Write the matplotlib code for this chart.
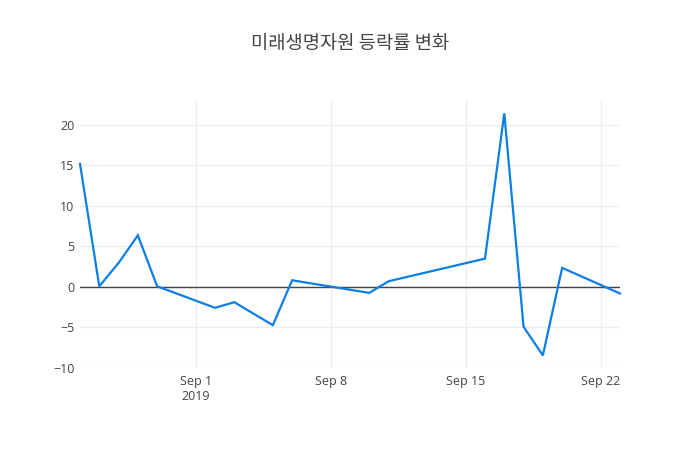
import matplotlib
matplotlib.use("Agg")
import matplotlib.pyplot as plt
import matplotlib.dates as mdates
import pandas as pd

plt.rcParams['font.family'] = ['Open Sans', 'Noto Sans CJK KR', 'DejaVu Sans']

title = "미래생명자원 등락률 변화"
dates = ["2019-08-26", "2019-08-27", "2019-08-28", "2019-08-29", "2019-08-30",
         "2019-09-02", "2019-09-03", "2019-09-05", "2019-09-06", "2019-09-10",
         "2019-09-11", "2019-09-16", "2019-09-17", "2019-09-18", "2019-09-19",
         "2019-09-20", "2019-09-23"]
values = [15.16, 0.07, 2.95, 6.35, 0.07,
          -2.58, -1.89, -4.72, 0.81, -0.74,
          0.69, 3.48, 21.39, -4.92, -8.45,
          2.34, -0.82]
tick_dates = ["2019-09-01", "2019-09-08", "2019-09-15", "2019-09-22"]
tick_labels = ["Sep 1\n2019", "Sep 8", "Sep 15", "Sep 22"]
y_ticks = [-10, -5, 0, 5, 10, 15, 20]

x = pd.to_datetime(dates)

fig = plt.figure(figsize=(7, 4.5), dpi=100)
ax = fig.add_axes([80/700, (450-368)/450, 540/700, 268/450])

ax.plot(x, values, color='#0c7ee6', linewidth=1.6, solid_joinstyle='miter', zorder=3, clip_on=False)
ax.axhline(0, color='#444444', linewidth=1, zorder=2)

ax.set_xlim(x[0], x[-1])
ax.set_ylim(-10, 23.03)

ax.set_xticks(pd.to_datetime(tick_dates))
ax.set_xticklabels(tick_labels)
ax.set_yticks(y_ticks)
ax.set_yticklabels([str(v).replace('-', '\u2212') for v in y_ticks])

ax.grid(True, color='#eeeeee', linewidth=1, zorder=0)
ax.set_axisbelow(True)
for s in ax.spines.values():
    s.set_visible(False)
ax.tick_params(axis='both', length=0, labelsize=9, colors='#444444')
ax.tick_params(axis='x', pad=5)
ax.tick_params(axis='y', pad=4)

fig.text(350/700, 1 - 43/450, title, ha='center', va='center',
         fontsize=13.5, color='#444444', family=['Noto Sans CJK KR', 'DejaVu Sans'])

fig.savefig("out.png", dpi=100, facecolor='white')
